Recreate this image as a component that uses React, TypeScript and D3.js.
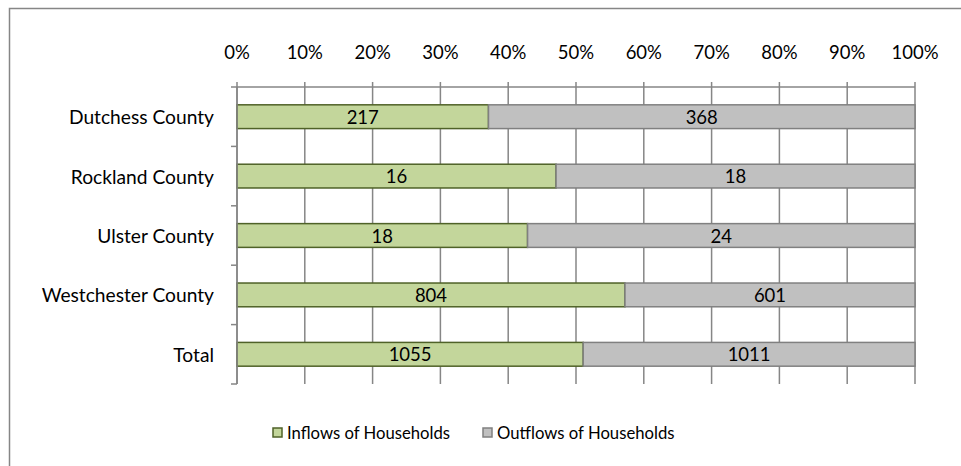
import React from "react";
import * as d3 from "d3";

const categories = ["Dutchess County", "Rockland County", "Ulster County", "Westchester County", "Total"];
const inflows = [217, 16, 18, 804, 1055];
const outflows = [368, 18, 24, 601, 1011];
const seriesNames = ["Inflows of Households", "Outflows of Households"];
const tickValues = [0, 0.1, 0.2, 0.3, 0.4, 0.5, 0.6, 0.7, 0.8, 0.9, 1];

const W = 961;
const H = 466;
const FONT = "Lato, 'Open Sans', sans-serif";
const FS = 18.5;
const FS_CAT = 19.2;
const FS_LEG = 16.7;
const GREEN = "#C3D69B";
const GREEN_STROKE = "#4F6228";
const GRAY = "#C0C0C0";
const GRAY_STROKE = "#808080";
const AXIS = "#868686";

export default function App() {
  const x = d3.scaleLinear().domain([0, 1]).range([237, 915]);
  const y = d3.scaleBand<string>().domain(categories).range([87, 384]).paddingInner(0.6).paddingOuter(0.3);
  const yEdges = d3.scaleBand<string>().domain(categories).range([87, 384]);
  const fmt = d3.format(".0%");

  const rows = categories.map((c, i) => {
    const total = inflows[i] + outflows[i];
    return { c, a: inflows[i], b: outflows[i], pa: inflows[i] / total };
  });

  return (
    <div style={{ position: "absolute", left: 0, top: 0 }}>
      <svg width={W} height={H} style={{ display: "block" }} fontFamily={FONT}>
        <rect x={0} y={0} width={W} height={H} fill="#fff" />
        <rect x={9.5} y={8.5} width={W + 10} height={H + 10} fill="none" stroke={AXIS} strokeWidth={1.5} />
        {tickValues.map((t) => (
          <line key={"g" + t} x1={x(t)} x2={x(t)} y1={82} y2={384} stroke={AXIS} strokeWidth={1.5} />
        ))}
        <line x1={231} x2={x(1)} y1={87} y2={87} stroke={AXIS} strokeWidth={1.5} />
        {categories.map((c) => (
          <line key={"lt" + c} x1={231} x2={237} y1={(yEdges(c) as number) + yEdges.bandwidth()} y2={(yEdges(c) as number) + yEdges.bandwidth()} stroke={AXIS} strokeWidth={1.5} />
        ))}
        {tickValues.map((t) => (
          <text key={"t" + t} x={x(t)} y={52} textAnchor="middle" dominantBaseline="central" fontSize={FS} fill="#000">
            {fmt(t)}
          </text>
        ))}
        {rows.map((r) => {
          const yy = y(r.c) as number;
          const h = y.bandwidth();
          return (
            <g key={r.c}>
              <text x={214} y={yy + h / 2} textAnchor="end" dominantBaseline="central" fontSize={FS_CAT} fill="#000">
                {r.c}
              </text>
              <rect x={x(0)} y={yy} width={x(r.pa) - x(0)} height={h} fill={GREEN} stroke={GREEN_STROKE} strokeWidth={1.5} />
              <rect x={x(r.pa)} y={yy} width={x(1) - x(r.pa)} height={h} fill={GRAY} stroke={GRAY_STROKE} strokeWidth={1.5} />
              <text x={(x(0) + x(r.pa)) / 2} y={yy + h / 2} textAnchor="middle" dominantBaseline="central" fontSize={FS} fill="#000">
                {r.a}
              </text>
              <text x={(x(r.pa) + x(1)) / 2} y={yy + h / 2} textAnchor="middle" dominantBaseline="central" fontSize={FS} fill="#000">
                {r.b}
              </text>
            </g>
          );
        })}
        <line x1={x(0)} x2={x(0)} y1={87} y2={384} stroke={AXIS} strokeWidth={1.5} />
        <rect x={273} y={428} width={9} height={9} fill={GREEN} stroke={GREEN_STROKE} strokeWidth={1.5} />
        <text x={287} y={433} dominantBaseline="central" fontSize={FS_LEG} fill="#000">{seriesNames[0]}</text>
        <rect x={483} y={428} width={9} height={9} fill={GRAY} stroke={GRAY_STROKE} strokeWidth={1.5} />
        <text x={497} y={433} dominantBaseline="central" fontSize={FS_LEG} fill="#000">{seriesNames[1]}</text>
      </svg>
    </div>
  );
}
